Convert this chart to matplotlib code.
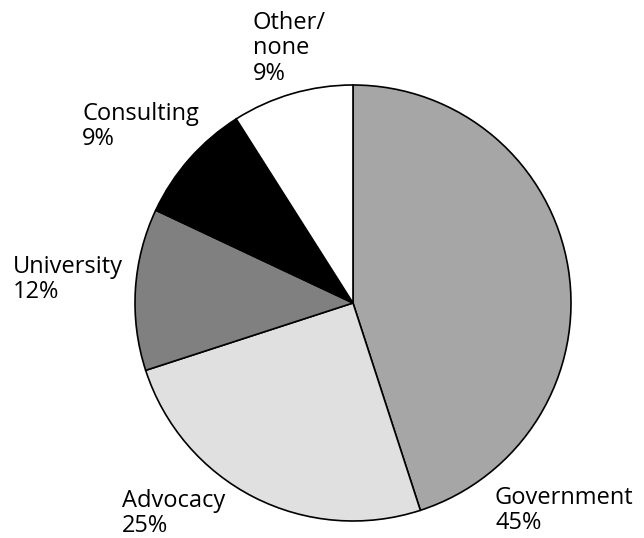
import matplotlib.pyplot as plt

labels = ["Government", "Advocacy", "University", "Consulting", "Other/\nnone"]
shares = [45, 25, 12, 9, 9]
colors = ["#a6a6a6", "#e0e0e0", "#808080", "#000000", "#ffffff"]

W, H = 644, 538
fig = plt.figure(figsize=(W / 100, H / 100), dpi=100)

# pie centre and radius in pixels
cx, cy, r = 353, 303, 218
ax = fig.add_axes([(cx - r) / W, 1 - (cy + r) / H, 2 * r / W, 2 * r / H])
ax.pie(shares, colors=colors, startangle=90, counterclock=False,
       wedgeprops=dict(edgecolor="black", linewidth=1.2))
ax.set_aspect("equal")
ax.set_xlim(-1, 1)
ax.set_ylim(-1, 1)

# label top-left corners, in pixels
label_pos = [(495, 486), (122, 489), (13, 255), (82, 102), (253, 11)]
for lab, val, (x, y) in zip(labels, shares, label_pos):
    fig.text(x / W, 1 - y / H, f"{lab}\n{val}%", ha="left", va="top",
             fontsize=17, family="Open Sans", linespacing=1.08)

fig.savefig("out.png", dpi=100)
